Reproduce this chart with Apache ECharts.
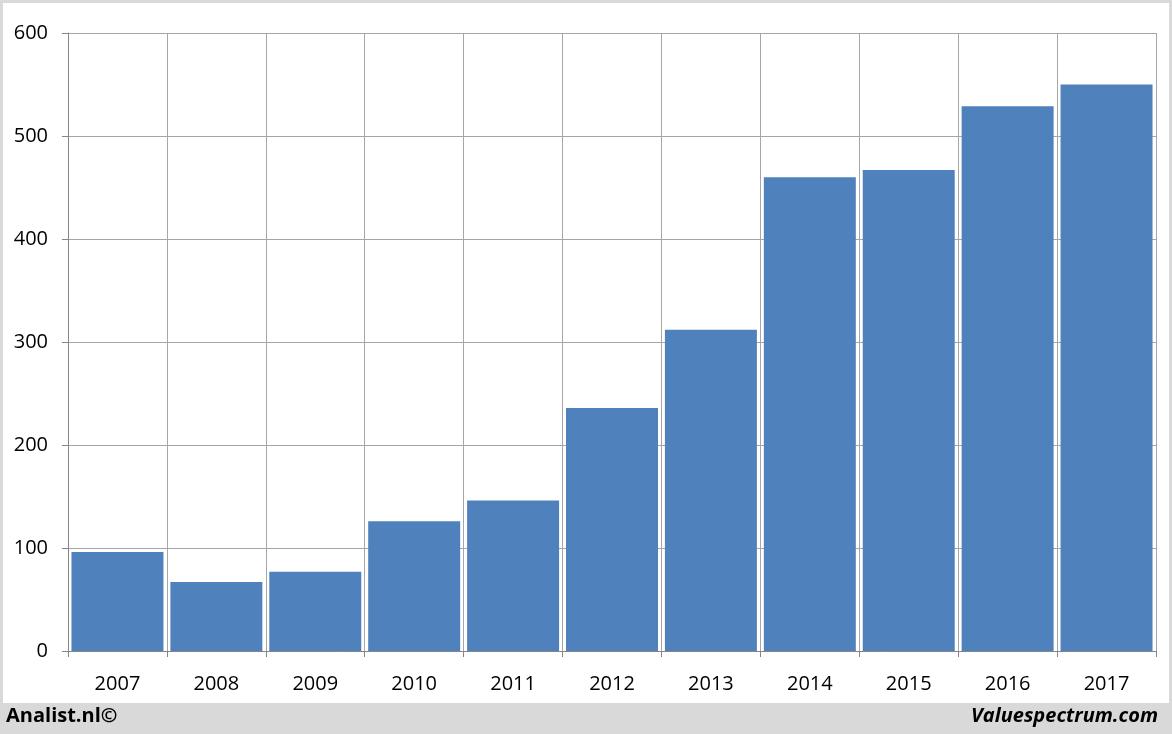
<!DOCTYPE html>
<html>
<head>
<meta charset="utf-8">
<script src="https://cdn.jsdelivr.net/npm/echarts@6/dist/echarts.min.js"></script>
<style>
  html, body { margin: 0; padding: 0; background: #d9d9d9; }
  #chart { width: 1172px; height: 734px; }
</style>
</head>
<body>
<div id="chart"></div>
<script>
var years = ['2007', '2008', '2009', '2010', '2011', '2012', '2013', '2014', '2015', '2016', '2017'];
var values = [96, 67, 77, 126, 146, 236, 312, 460, 467, 529, 550];

var myChart = echarts.init(document.getElementById('chart'));
var option = {
    backgroundColor: '#d9d9d9',
    animation: false,
    graphic: [
        { type: 'rect', shape: { x: 3, y: 3, width: 1166, height: 700 }, style: { fill: '#fff' }, z: -10 },
        { type: 'text', left: 6, top: 706, style: { text: 'Analist.nl©', font: 'bold 20px "Open Sans", sans-serif', fill: '#000' } },
        { type: 'text', right: 14, top: 706, style: { text: 'Valuespectrum.com', font: 'italic bold 20px "Open Sans", sans-serif', fill: '#000' } }
    ],
    grid: { left: 68, right: 16, top: 33, bottom: 83 },
    xAxis: {
        type: 'category',
        data: years,
        axisLine: { lineStyle: { color: '#868686' } },
        axisTick: { show: true, interval: 0, length: 6, lineStyle: { color: '#868686' } },
        splitLine: { show: true, interval: 0, lineStyle: { color: '#a6a6a6' } },
        axisLabel: { color: '#000', fontSize: 20, fontFamily: 'Open Sans', margin: 23 }
    },
    yAxis: {
        type: 'value',
        min: 0, max: 600, interval: 100,
        axisLine: { show: true, lineStyle: { color: '#868686' } },
        axisTick: { show: true, length: 6, lineStyle: { color: '#868686' } },
        splitLine: { lineStyle: { color: '#a6a6a6' } },
        axisLabel: { color: '#000', fontSize: 20, fontFamily: 'Open Sans', margin: 20 }
    },
    series: [{
        type: 'bar',
        data: values,
        barWidth: '93%',
        itemStyle: { color: '#4f81bd' }
    }]
};
myChart.setOption(option);
</script>
</body>
</html>
